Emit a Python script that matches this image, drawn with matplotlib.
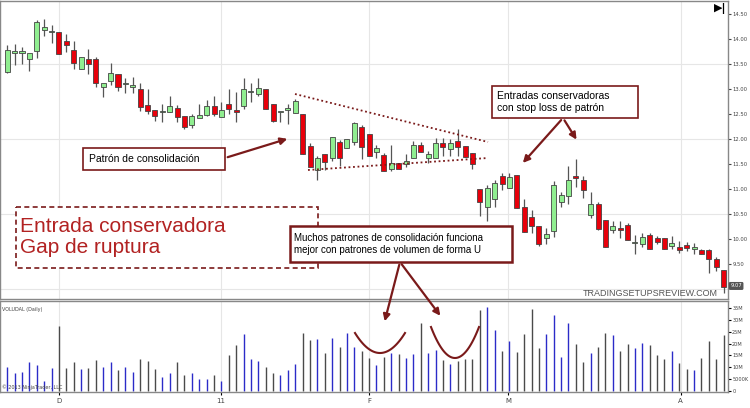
import matplotlib
matplotlib.use("Agg")
import matplotlib.pyplot as plt
from matplotlib.patches import Rectangle
import numpy as np

# OHLC (open, close, high, low)
opens  = [13.34,13.72,13.72,13.59,13.76,14.17,14.14,14.13,13.96,13.78,13.40,13.59,13.59,13.03,13.16,13.30,13.10,13.03,12.99,12.68,
          12.58,12.54,12.54,12.62,12.45,12.27,12.41,12.47,12.66,12.43,12.70,12.58,12.66,12.93,12.89,12.99,12.70,12.54,12.58,12.52,
          12.50,11.86,11.38,11.71,11.63,11.94,11.81,11.94,12.23,12.10,11.75,11.69,11.40,11.52,11.50,11.63,11.88,11.63,11.63,11.92,
          11.79,11.96,11.86,11.73,11.00,10.64,10.80,11.26,11.03,11.28,10.64,10.45,10.26,10.02,10.16,10.74,10.86,11.26,11.19,10.49,
          10.70,10.39,10.18,10.22,10.28,9.93,9.91,10.08,10.02,10.02,9.87,9.85,9.89,9.81,9.79,9.79,9.60,9.38]
closes = [13.78,13.76,13.75,13.71,14.33,14.23,14.14,13.69,13.88,13.51,13.63,13.49,13.12,13.12,13.32,13.03,13.10,13.07,12.64,12.56,
          12.46,12.54,12.66,12.43,12.23,12.45,12.47,12.66,12.50,12.58,12.60,12.54,12.99,12.93,13.01,12.60,12.35,12.54,12.62,12.76,
          11.71,11.44,11.63,11.55,12.04,11.63,12.00,12.31,11.83,11.67,11.81,11.36,11.52,11.40,11.57,11.88,11.75,11.71,11.92,11.83,
          11.92,11.83,11.65,11.50,10.74,11.03,11.13,11.11,11.24,10.62,10.14,10.26,9.91,10.10,11.09,10.88,11.19,11.22,10.99,10.70,
          10.20,9.85,10.26,10.18,9.99,9.93,10.04,9.81,9.95,9.81,9.93,9.79,9.83,9.85,9.71,9.60,9.44,9.05]
highs  = [13.88,13.90,13.84,13.65,14.37,14.39,14.27,14.13,14.10,13.96,13.63,13.80,13.63,13.09,13.51,13.30,13.22,13.24,13.11,13.00,
          12.58,12.70,12.86,12.68,12.45,12.49,12.70,12.78,12.86,12.74,12.99,12.93,13.22,13.11,13.22,12.99,12.70,12.54,12.70,12.80,
          12.50,11.92,11.67,11.71,12.04,11.98,12.00,12.33,12.27,12.10,11.88,11.73,11.88,11.52,11.71,11.96,11.94,11.77,12.02,12.02,
          12.00,12.20,11.86,11.73,11.00,11.09,11.19,11.32,11.32,11.28,10.80,10.59,10.26,10.22,11.16,10.94,11.47,11.61,11.26,10.94,
          10.74,10.39,10.37,10.37,10.32,10.08,10.12,10.12,10.06,10.02,10.06,9.97,9.95,9.93,9.81,9.81,9.64,9.38]
lows   = [13.32,13.47,13.49,13.36,13.61,14.06,13.92,13.69,13.73,13.40,13.40,13.30,13.03,12.84,13.07,12.96,12.91,12.91,12.56,12.49,
          12.35,12.33,12.54,12.33,12.20,12.22,12.47,12.45,12.45,12.45,12.49,12.33,12.60,12.74,12.86,12.60,12.33,12.33,12.29,12.52,
          11.71,11.44,11.18,11.38,11.57,11.47,11.81,11.88,11.61,11.67,11.63,11.36,11.36,11.40,11.44,11.63,11.75,11.52,11.63,11.67,
          11.67,11.67,11.65,11.40,10.47,10.37,10.64,10.99,11.03,10.62,10.14,10.12,9.87,9.91,10.04,10.64,10.70,11.05,10.83,10.43,
          10.18,9.85,10.12,10.03,9.99,9.71,9.85,9.81,9.91,9.81,9.81,9.73,9.77,9.71,9.71,9.32,9.36,8.93]
# volume bar tops (millions)
volume = [10.0,7.7,8.0,12.3,10.8,4.2,9.7,27.6,9.7,12.0,9.3,9.7,13.1,10.0,12.3,8.8,10.2,8.0,13.4,12.8,
          9.3,5.7,7.4,12.3,6.6,7.4,5.1,5.1,6.9,4.3,15.1,19.3,24.2,13.3,12.7,10.2,7.4,6.9,8.6,11.3,
          24.4,21.3,22.1,15.8,22.4,18.5,24.5,18.5,17.0,13.7,10.9,14.4,16.2,15.4,14.0,15.4,28.9,15.9,17.1,13.0,
          11.3,12.7,13.3,13.6,34.3,35.6,25.8,16.8,21.1,16.4,24.0,34.7,18.1,24.0,32.1,14.4,28.9,19.6,12.2,15.9,
          18.7,24.4,23.5,16.8,19.7,18.3,20.1,19.3,15.0,13.4,16.8,11.6,9.3,8.9,13.9,21.1,13.4,23.5]
date_ticks = [7.0, 28.9, 49.0, 67.8, 91.2]
date_labels = ["D", "11", "F", "M", "A"]
price_ticks = [9.5,10.0,10.5,11.0,11.5,12.0,12.5,13.0,13.5,14.0,14.5]
vol_ticks = [0,5,10,15,20,25,30,35]
vol_labels = ["0","5000K","10M","15M","20M","25M","30M","35M"]

W, H = 750, 408
fig = plt.figure(figsize=(7.5, 4.08), dpi=100)
fig.patch.set_facecolor("white")
def rect(x0, y0, x1, y1):
    return [x0 / W, 1 - y1 / H, (x1 - x0) / W, (y1 - y0) / H]

XL = (-0.98, 97.6)
axp = fig.add_axes(rect(0, 1, 728, 299))
axv = fig.add_axes(rect(0, 301, 728, 392))
n = len(opens)
x = np.arange(n)
up = np.array(closes) >= np.array(opens)
for i in range(n):
    axp.vlines(i, lows[i], highs[i], color="#555555", lw=0.9, zorder=2)
    lo, hi = sorted((opens[i], closes[i]))
    hgt = max(hi - lo, 0.02)
    axp.add_patch(Rectangle((i - 0.34, lo), 0.68, hgt,
                            facecolor="#90ee90" if up[i] else "#e8000b",
                            edgecolor="#444444", lw=0.6, zorder=3))
axp.set_xlim(*XL)
axp.set_ylim(8.81, 14.75)
axp.yaxis.tick_right()
axp.set_yticks(price_ticks)
axp.set_yticklabels([f"{t:.2f}" for t in price_ticks], fontsize=3.8, color="#444444")
axp.tick_params(axis="y", length=2, pad=1, colors="#444444")
axp.set_xticks(date_ticks)
axp.set_xticklabels([])
axp.tick_params(axis="x", length=0)
for yv in [13.5, 12.0, 10.5, 9.0]:
    axp.axhline(yv, color="#e6e6e6", lw=0.8, zorder=0)
for xv in date_ticks:
    axp.axvline(xv, color="#e6e6e6", lw=0.8, zorder=0)
axp.text(97.9, 9.07, "9.07", fontsize=3.8, color="white", va="center", ha="left",
         bbox=dict(boxstyle="round,pad=0.15", fc="#555555", ec="#555555"), clip_on=False)

vcol = ["#2b2bc8" if u else "#4a4a4a" for u in up]
axv.vlines(x, 0, volume, colors=vcol, lw=1.0)
axv.set_xlim(*XL)
axv.set_ylim(-0.5, 38)
axv.yaxis.tick_right()
axv.set_yticks(vol_ticks)
axv.set_yticklabels(vol_labels, fontsize=3.6, color="#444444")
axv.tick_params(axis="y", length=2, pad=1)
axv.set_xticks(date_ticks)
axv.set_xticklabels(date_labels, fontsize=5, color="#444444")
axv.tick_params(axis="x", length=2, pad=2)
for xv in date_ticks:
    axv.axvline(xv, color="#e6e6e6", lw=0.8, zorder=0)
for ax in (axp, axv):
    for s in ax.spines.values():
        s.set_color("#888888"); s.set_linewidth(1)
axv.text(0.003, 0.93, "VOLUDAL (Daily)", transform=axv.transAxes, fontsize=3.5, color="#444444", va="top")
axv.text(0.003, 0.02, "© 2013 NinjaTrader, LLC", transform=axv.transAxes, fontsize=3.5, color="#444444", va="bottom")

# overlay for annotations (pixel coords)
ov = fig.add_axes([0, 0, 1, 1], facecolor="none")
ov.set_xlim(0, W); ov.set_ylim(H, 0); ov.axis("off")
red = "#7a1a1a"
def arrow(x0, y0, x1, y1):
    ov.annotate("", xy=(x1, y1), xytext=(x0, y0),
                arrowprops=dict(arrowstyle="-|>", color=red, lw=1.6, mutation_scale=10))
ov.plot([295, 488], [94, 142], ls=(0, (1, 1.5)), color=red, lw=1.3)
ov.plot([308, 488], [170, 158], ls=(0, (1, 1.5)), color=red, lw=1.3)

ov.add_patch(Rectangle((83, 148), 142, 22, fc="white", ec=red, lw=1.2))
ov.text(89, 159, "Patrón de consolidación", fontsize=7.5, va="center", family="Liberation Sans")
arrow(225, 158, 290, 138)

ov.add_patch(Rectangle((492, 86), 146, 32, fc="white", ec=red, lw=1.2))
ov.text(497, 102, "Entradas conservadoras\ncon stop loss de patrón", fontsize=7.5, va="center",
        family="Liberation Sans", linespacing=1.3)
arrow(563, 118, 521, 165)
arrow(563, 118, 578, 142)

ov.add_patch(Rectangle((16, 207), 302, 61, fc="white", ec=red, lw=1.2, ls=(0, (3, 2))))
ov.text(20, 237, "Entrada conservadora\nGap de ruptura", fontsize=15, va="center", color="#b22222",
        family="Liberation Sans", linespacing=1.15)

ov.add_patch(Rectangle((290, 226), 222, 36, fc="white", ec=red, lw=1.8))
ov.text(294, 244, "Muchos patrones de consolidación funciona\nmejor con patrones de volumen de forma U",
        fontsize=7, va="center", family="Liberation Sans", linespacing=1.3)
arrow(400, 262, 384, 324)
arrow(400, 262, 442, 318)
t = np.linspace(-1, 1, 50)
ov.plot(380 + 25 * t, 353 - 20 * t ** 2, color=red, lw=1.5)
ov.plot(455 + 24 * t, 358 - 31 * t ** 2, color=red, lw=1.5)

ov.text(718, 293, "TRADINGSETUPSREVIEW.COM", fontsize=6.5, color="#555555", ha="right", va="center",
        family="Liberation Sans")
ov.text(720, 9, "▶|", fontsize=8, color="black", ha="center", va="center", fontweight="bold")

fig.savefig("out.png", dpi=100)
